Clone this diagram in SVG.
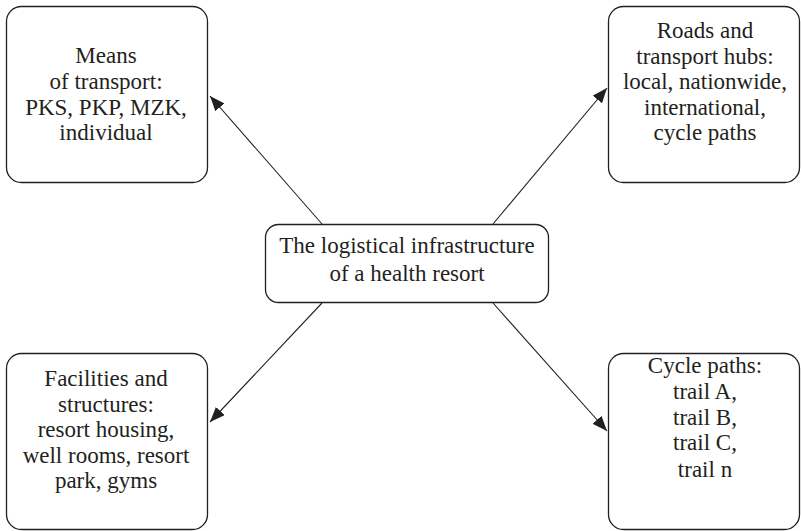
<svg xmlns="http://www.w3.org/2000/svg" width="801" height="531" viewBox="0 0 801 531">
<style>
.box{fill:#fff;stroke:#231f20;stroke-width:1.3}
.t{font-family:'Liberation Serif',serif;font-size:23px;fill:#231f20;text-anchor:middle}
.c{stroke:#231f20;stroke-width:1.1;fill:none;marker-end:url(#ah)}
</style>
<defs>
<marker id="ah" markerUnits="userSpaceOnUse" markerWidth="16" markerHeight="12" refX="15" refY="6" orient="auto">
<path d="M0,0 L15,6 L0,12 Z" fill="#231f20"/>
</marker>
</defs>
<rect width="801" height="531" fill="#fff"/>
<g id="connectors">
<line class="c" x1="322" y1="224" x2="210" y2="96"/>
<line class="c" x1="493" y1="224" x2="607" y2="88"/>
<line class="c" x1="322" y1="303" x2="210" y2="422"/>
<line class="c" x1="493" y1="303" x2="607" y2="431"/>
</g>
<g id="center" font-family="Liberation Serif">
<rect class="box" x="265.5" y="224.5" width="283" height="78" rx="13"/>
<text class="t" x="407" y="253">The logistical infrastructure</text>
<text class="t" x="407" y="281">of a health resort</text>
</g>
<g id="means" font-family="Liberation Serif">
<rect class="box" x="6.5" y="6.5" width="201" height="176" rx="15"/>
<text class="t" x="106" y="63">Means</text>
<text class="t" x="106" y="89">of transport:</text>
<text class="t" x="106" y="115">PKS, PKP, MZK,</text>
<text class="t" x="106" y="140">individual</text>
</g>
<g id="roads" font-family="Liberation Serif">
<rect class="box" x="608.5" y="6.5" width="191" height="176" rx="15"/>
<text class="t" x="705" y="38">Roads and</text>
<text class="t" x="705" y="64">transport hubs:</text>
<text class="t" x="705" y="89">local, nationwide,</text>
<text class="t" x="705" y="115">international,</text>
<text class="t" x="705" y="140">cycle paths</text>
</g>
<g id="facilities" font-family="Liberation Serif">
<rect class="box" x="6.5" y="353.5" width="201" height="176" rx="15"/>
<text class="t" x="106" y="386">Facilities and</text>
<text class="t" x="106" y="412">structures:</text>
<text class="t" x="106" y="437">resort housing,</text>
<text class="t" x="106" y="463">well rooms, resort</text>
<text class="t" x="106" y="488">park, gyms</text>
</g>
<g id="cycle" font-family="Liberation Serif">
<rect class="box" x="608.5" y="353.5" width="191" height="176" rx="15"/>
<text class="t" x="705" y="373">Cycle paths:</text>
<text class="t" x="705" y="399">trail A,</text>
<text class="t" x="705" y="425">trail B,</text>
<text class="t" x="705" y="450">trail C,</text>
<text class="t" x="705" y="477">trail n</text>
</g>
</svg>
